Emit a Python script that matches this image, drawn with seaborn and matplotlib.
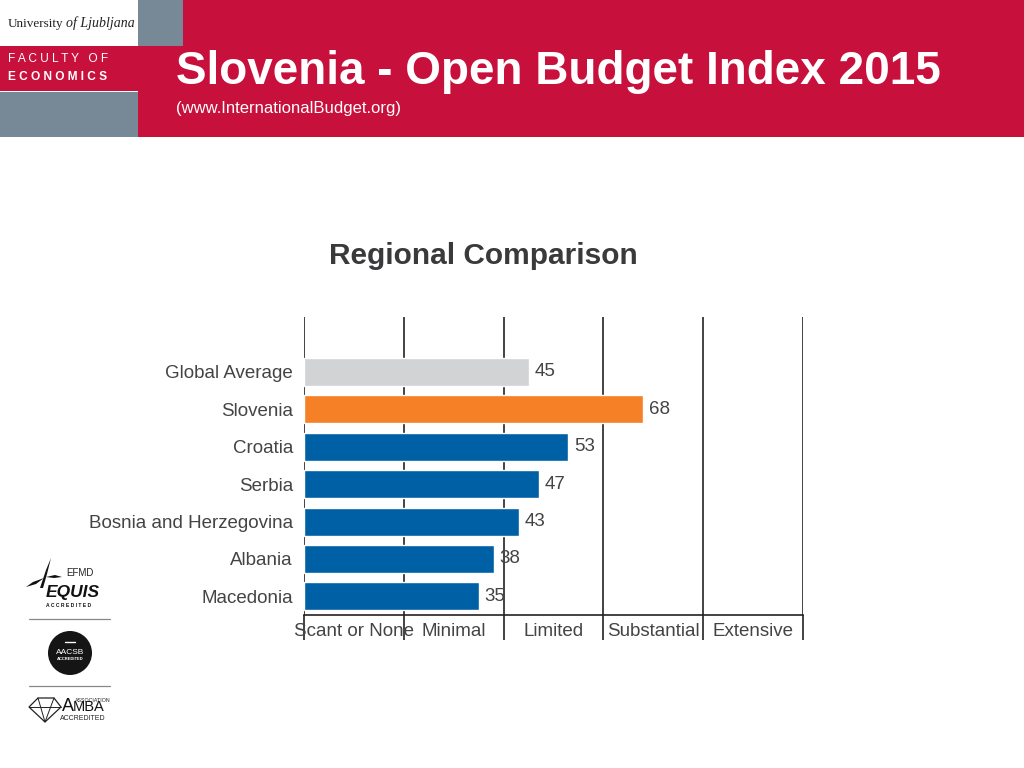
import matplotlib
matplotlib.use('Agg')
import matplotlib.pyplot as plt
from matplotlib.patches import Rectangle, Circle, Polygon
import pandas as pd
import seaborn as sns

countries = ['Global Average', 'Slovenia', 'Croatia', 'Serbia', 'Bosnia and Herzegovina', 'Albania', 'Macedonia']
scores = [45, 68, 53, 47, 43, 38, 35]
bar_colors = ['#d2d3d5', '#f58025', '#0060a5', '#0060a5', '#0060a5', '#0060a5', '#0060a5']
bands = ['Scant or None', 'Minimal', 'Limited', 'Substantial', 'Extensive']
band_edges = [0, 20, 40, 60, 80, 100]
band_mids = [10, 30, 50, 70, 90]

NARROW = ['Liberation Sans Narrow', 'Liberation Sans']
W, H = 1024, 768

sns.set_theme(style='white')
plt.rcParams['font.family'] = ['Liberation Sans', 'DejaVu Sans']

fig = plt.figure(figsize=(10.24, 7.68), dpi=100)

# background layer in pixel coordinates, for the slide header and logos
bg = fig.add_axes([0, 0, 1, 1])
bg.set_xlim(0, W)
bg.set_ylim(H, 0)
bg.axis('off')

red = '#c8103c'
grey = '#778896'
bg.add_patch(Rectangle((138, 0), W - 138, 137, color=red, lw=0))
bg.add_patch(Rectangle((0, 46), 138, 45, color=red, lw=0))
bg.add_patch(Rectangle((138, 0), 45, 46, color=grey, lw=0))
bg.add_patch(Rectangle((0, 92), 138, 45, color=grey, lw=0))

bg.text(8, 23.5, 'University', fontsize=9.5, family='Liberation Serif', color='#222222', va='center')
bg.text(66, 23.5, 'of Ljubljana', fontsize=10, family='Liberation Serif', style='italic', color='#222222', va='center')
bg.text(8, 59, 'F A C U L T Y   O F', fontsize=8.6, color='white', va='center')
bg.text(8, 77, 'E C O N O M I C S', fontsize=8.6, color='white', weight='bold', va='center')

bg.text(176, 72, 'Slovenia - Open Budget Index 2015', fontsize=33, weight='bold', color='white', va='center')
bg.text(176, 108, '(www.InternationalBudget.org)', fontsize=12, color='white', va='center')

# EQUIS logo
bg.add_patch(Polygon([(40, 588), (46, 570), (51, 558), (47, 574), (43, 588)], color='#111111', lw=0))
bg.add_patch(Polygon([(26, 587), (33, 582), (44, 578), (36, 584)], color='#111111', lw=0))
bg.add_patch(Polygon([(46, 577), (55, 575), (62, 577), (54, 578)], color='#111111', lw=0))
bg.text(66, 573, 'EFMD', fontsize=7, color='#222222', va='center')
bg.text(46, 592, 'EQUIS', fontsize=12.5, weight='bold', style='italic', color='#111111', va='center')
bg.text(46, 605.5, 'A C C R E D I T E D', fontsize=3.6, weight='bold', color='#111111', va='center')
bg.plot([29, 110], [619, 619], color='#888888', lw=0.9)
bg.plot([29, 110], [686, 686], color='#888888', lw=0.9)

# AACSB logo
bg.add_patch(Circle((70, 653), 22, color='#151515', lw=0))
bg.text(70, 652, 'AACSB', fontsize=6, color='white', ha='center', va='center')
bg.text(70, 659, 'ACCREDITED', fontsize=3, weight='bold', color='white', ha='center', va='center')
bg.plot([65, 75], [642, 642], color='white', lw=1)

# AMBA logo
bg.add_patch(Polygon([(29, 707), (38, 698), (54, 698), (61, 707), (45, 722)], facecolor='none', edgecolor='#222222', lw=0.9))
bg.plot([29, 61], [707, 707], color='#222222', lw=0.7)
bg.plot([38, 45, 54], [698, 722, 698], color='#222222', lw=0.7)
bg.text(62, 711, 'A', fontsize=13, color='#111111', va='baseline')
bg.text(73, 711, 'MBA', fontsize=10.5, color='#111111', va='baseline')
bg.text(75, 701, 'ASSOCIATION', fontsize=3.8, color='#222222', va='center')
bg.text(60, 719, 'ACCREDITED', fontsize=5, color='#222222', va='center')

# chart title
bg.text(483, 256, 'Regional Comparison', fontsize=21.5, weight='bold', family=NARROW,
        color='#3a3a3c', ha='center', va='center')

# the chart itself
df = pd.DataFrame({'country': countries, 'score': scores})
ax = fig.add_axes([304 / W, 1 - 615 / H, 499 / W, 298 / H])
ax.patch.set_alpha(0)
sns.barplot(data=df, y='country', x='score', hue='country', palette=bar_colors,
            legend=False, width=0.75, saturation=1, ax=ax, zorder=3)
ax.set_xlim(0, 100)
ax.set_ylim(6.5, -1.47)
ax.set_xlabel('')
ax.set_ylabel('')

for y, v in enumerate(scores):
    ax.text(v + 1.2, y, str(v), fontsize=13.5, family=NARROW, color='#444444', va='center', zorder=4)

for x in band_edges:
    ax.axvline(x, color='#222222', lw=1.2, zorder=2)

ax.set_xticks(band_edges)
ax.set_xticklabels([])
ax.set_xticks(band_mids, labels=bands, minor=True)
ax.tick_params(axis='x', which='major', length=18, width=1.2, color='#222222', bottom=True)
ax.tick_params(axis='x', which='minor', length=0, pad=6, labelsize=13.5, labelcolor='#444444')
for lab in ax.get_xticklabels(minor=True):
    lab.set_family(NARROW)

ax.tick_params(axis='y', length=0, pad=8, labelsize=13.5, labelcolor='#444444')
for lab in ax.get_yticklabels():
    lab.set_family(NARROW)

for s in ['top', 'right', 'left']:
    ax.spines[s].set_visible(False)
ax.spines['bottom'].set_color('#222222')
ax.spines['bottom'].set_linewidth(1.2)
ax.spines['bottom'].set_zorder(5)

fig.savefig('out.png', dpi=100)
